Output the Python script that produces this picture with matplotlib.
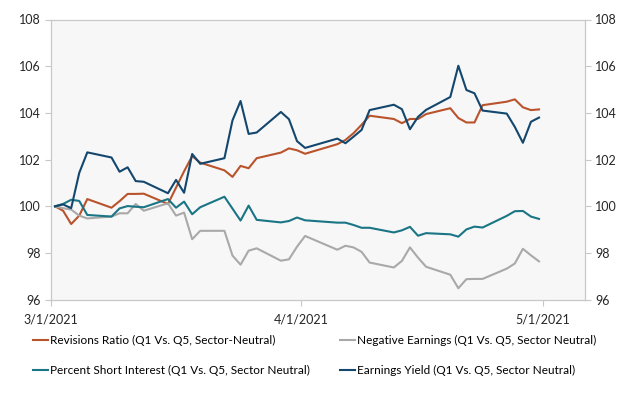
import matplotlib
matplotlib.use('Agg')
import matplotlib.pyplot as plt
import matplotlib.dates as mdates
import numpy as np
from datetime import datetime, timedelta

plt.rcParams['font.family'] = ['Lato', 'DejaVu Sans']

march_days = [1, 2, 3, 4, 5, 8, 9, 10, 11, 12, 15, 16, 17, 18, 19, 22, 23, 24, 25, 26, 29, 30, 31]
april_days = [1, 5, 6, 7, 8, 9, 12, 13, 14, 15, 16, 19, 20, 21, 22, 23, 26, 27, 28, 29, 30]
dates = [datetime(2021, 3, d) for d in march_days] + [datetime(2021, 4, d) for d in april_days]

revisions_ratio = [
    100.0, 99.81, 99.24, 99.6, 100.31, 99.94, 100.22, 100.53, 100.53, 100.54, 100.1, 100.8,
    101.5, 102.15, 101.87, 101.54, 101.26, 101.73, 101.63, 102.06, 102.3, 102.48, 102.4,
    102.25, 102.66, 102.84, 103.13, 103.49, 103.88, 103.74, 103.56, 103.74, 103.74, 103.95,
    104.2, 103.78, 103.59, 103.59, 104.33, 104.48, 104.58, 104.24, 104.12, 104.15,
]
negative_earnings = [
    100.0, 99.92, 99.86, 99.6, 99.48, 99.56, 99.7, 99.7, 100.1, 99.81, 100.13, 99.6,
    99.73, 98.59, 98.95, 98.95, 97.89, 97.5, 98.1, 98.2, 97.67, 97.73, 98.27,
    98.73, 98.14, 98.31, 98.24, 98.05, 97.59, 97.38, 97.66, 98.24, 97.8, 97.41,
    97.07, 96.49, 96.88, 96.89, 96.89, 97.33, 97.55, 98.18, 97.9, 97.64,
]
short_interest = [
    100.0, 100.1, 100.28, 100.23, 99.63, 99.56, 99.91, 100.01, 99.98, 99.96, 100.31, 99.94,
    100.2, 99.66, 99.96, 100.41, 99.9, 99.39, 100.03, 99.42, 99.31, 99.37, 99.52,
    99.4, 99.3, 99.3, 99.2, 99.08, 99.08, 98.88, 98.97, 99.12, 98.74, 98.85,
    98.8, 98.7, 99.01, 99.13, 99.09, 99.59, 99.79, 99.8, 99.56, 99.46,
]
earnings_yield = [
    100.0, 100.08, 99.92, 101.43, 102.31, 102.09, 101.48, 101.67, 101.08, 101.05, 100.56, 101.13,
    100.58, 102.24, 101.82, 102.06, 103.68, 104.51, 103.1, 103.16, 104.04, 103.73, 102.79,
    102.5, 102.9, 102.7, 102.98, 103.27, 104.12, 104.35, 104.16, 103.3, 103.83, 104.13,
    104.68, 106.02, 104.98, 104.84, 104.1, 103.97, 103.4, 102.72, 103.62, 103.8,
]

tick_dates = [datetime(2021, 3, 1), datetime(2021, 4, 1), datetime(2021, 5, 1)]
tick_labels = ['3/1/2021', '4/1/2021', '5/1/2021']
yticks = [96, 98, 100, 102, 104, 106, 108]

# plotted at mid-day like Excel's "between tick marks" date axis
half = timedelta(hours=12)
xs = [d + half for d in dates]

fig = plt.figure(figsize=(6.25, 3.93), dpi=100)
ax = fig.add_axes([51/625, 1 - 299.7/393, (585 - 51)/625, (299.7 - 19.5)/393])
ax.set_facecolor('#f7f7f7')

l1, = ax.plot(xs, revisions_ratio, color='#b9532c', lw=1.5,
              label='Revisions Ratio (Q1 Vs. Q5, Sector-Neutral)')
l2, = ax.plot(xs, negative_earnings, color='#a9a9a9', lw=1.5,
              label='Negative Earnings (Q1 Vs. Q5, Sector Neutral)')
l3, = ax.plot(xs, short_interest, color='#1a7585', lw=1.5,
              label='Percent Short Interest (Q1 Vs. Q5, Sector Neutral)')
l4, = ax.plot(xs, earnings_yield, color='#13476e', lw=1.5,
              label='Earnings Yield (Q1 Vs. Q5, Sector Neutral)')

x0 = mdates.date2num(tick_dates[0])
ax.set_xlim(x0, x0 + 66.2)
ax.set_ylim(96, 108)
ax.set_xticks(tick_dates)
ax.set_xticklabels(tick_labels)
ax.set_yticks(yticks)

ax2 = ax.twinx()
ax2.set_ylim(96, 108)
ax2.set_yticks(yticks)

for a in (ax, ax2):
    for s in a.spines.values():
        s.set_color('#c8c8c8')
        s.set_linewidth(0.8)
    a.tick_params(colors='#c8c8c8', labelcolor='#262626', labelsize=9, length=4, width=0.8)
ax.tick_params(axis='x', pad=6)

fig.legend(handles=[l1, l3, l2, l4], loc='upper left', bbox_to_anchor=(33/625, 1 - 335/393),
           ncol=2, frameon=False, fontsize=8.5, handlelength=1.3, handletextpad=0.1,
           columnspacing=2.6, labelspacing=1.6, borderaxespad=0, borderpad=0)

plt.savefig('out.png', dpi=100)
plt.close()
